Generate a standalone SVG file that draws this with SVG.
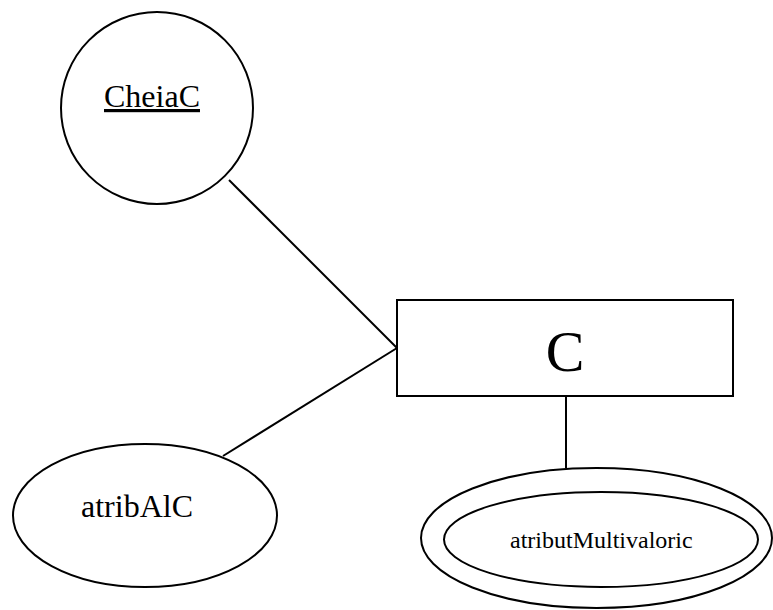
<svg xmlns="http://www.w3.org/2000/svg" width="773" height="610" viewBox="0 0 773 610">
<style>
.s{fill:#fff;stroke:#000;stroke-width:2}
.l{stroke:#000;stroke-width:2;fill:none}
.t{font-family:'Liberation Serif','DejaVu Serif',serif;fill:#000}
</style>
<rect width="773" height="610" fill="#fff"/>
<g id="connectors">
<line class="l" x1="229" y1="180" x2="397" y2="348"/>
<line class="l" x1="223" y1="456" x2="397" y2="348"/>
<line class="l" x1="566" y1="396" x2="566" y2="468"/>
</g>
<g id="CheiaC">
<circle class="s" cx="157" cy="108" r="96"/>
<text class="t" x="104" y="107" font-size="32" text-decoration="underline">CheiaC</text>
</g>
<g id="C">
<rect class="s" x="397" y="300" width="336" height="96"/>
<text class="t" x="565" y="371" font-size="58" text-anchor="middle">C</text>
</g>
<g id="atribAlC">
<ellipse class="s" cx="145" cy="515.5" rx="132" ry="71.5"/>
<text class="t" x="81" y="517" font-size="32">atribAlC</text>
</g>
<g id="atributMultivaloric">
<ellipse class="s" cx="596.5" cy="538" rx="175.5" ry="70"/>
<ellipse class="s" cx="601" cy="539.5" rx="157" ry="47.5"/>
<text class="t" x="510" y="548" font-size="24">atributMultivaloric</text>
</g>
</svg>
